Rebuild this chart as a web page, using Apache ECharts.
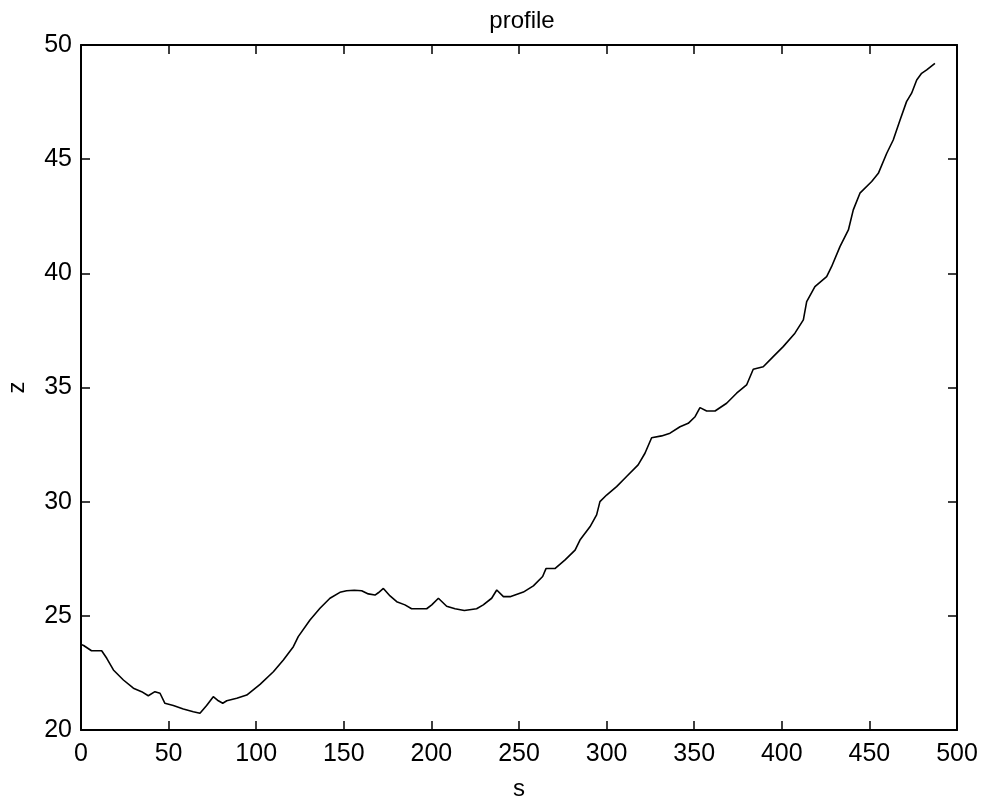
<!DOCTYPE html>
<html>
<head>
<meta charset="utf-8">
<script src="https://cdn.jsdelivr.net/npm/echarts@6/dist/echarts.min.js"></script>
<style>
html,body{margin:0;padding:0;background:#fff;}
#chart{width:981px;height:799px;}
</style>
</head>
<body>
<div id="chart"></div>
<script>
const sValues = [0, 1.5, 6, 11.8, 14.7, 18.5, 24.2, 29.9, 34.6, 38.4, 42.2, 45.1, 47.9, 52.7, 58.4, 64.1, 67.9, 71.7, 75.5, 78.4, 80.9, 83.2, 88.9, 94.6, 102.2, 109.8, 115.5, 121.2, 124, 130.7, 136.4, 142.1, 147.8, 151.6, 156, 160.2, 164, 167.8, 169.7, 172.6, 176.4, 180.2, 184.9, 188.7, 197.3, 200.2, 204, 208.7, 213.5, 218.8, 225.8, 229.6, 234.4, 237.3, 241.1, 244.9, 252.5, 258.2, 263.5, 265.4, 270.5, 276.3, 282, 284.8, 290.5, 294.3, 296.2, 300, 305.7, 311.4, 318, 321.9, 325.7, 331.4, 336.2, 341.9, 346.6, 350.5, 353.3, 357.1, 361.9, 368.5, 374.2, 379.9, 383.7, 389.4, 395.1, 400.8, 407.5, 412.3, 414.2, 418.9, 425.6, 428.4, 433.2, 438, 440.8, 444.6, 451.3, 455.1, 459.9, 463.6, 467.5, 471.2, 474.1, 477, 479.8, 482.7, 487.4];
const zValues = [23.75, 23.70, 23.47, 23.47, 23.14, 22.63, 22.19, 21.83, 21.68, 21.50, 21.68, 21.61, 21.17, 21.07, 20.92, 20.80, 20.73, 21.07, 21.46, 21.28, 21.17, 21.28, 21.39, 21.53, 22.00, 22.55, 23.07, 23.65, 24.09, 24.82, 25.33, 25.77, 26.03, 26.10, 26.12, 26.10, 25.96, 25.91, 26.01, 26.20, 25.87, 25.62, 25.48, 25.31, 25.31, 25.48, 25.77, 25.42, 25.31, 25.23, 25.31, 25.48, 25.77, 26.13, 25.84, 25.84, 26.04, 26.31, 26.72, 27.07, 27.07, 27.45, 27.88, 28.32, 28.90, 29.42, 30.00, 30.29, 30.66, 31.10, 31.61, 32.12, 32.80, 32.88, 33.00, 33.28, 33.43, 33.72, 34.12, 33.97, 33.97, 34.31, 34.75, 35.11, 35.80, 35.91, 36.35, 36.79, 37.38, 37.96, 38.76, 39.42, 39.86, 40.29, 41.17, 41.90, 42.78, 43.51, 44.02, 44.38, 45.26, 45.84, 46.72, 47.52, 47.89, 48.47, 48.76, 48.91, 49.20];
const titleText = 'profile';
const xName = 's';
const yName = 'z';

const FONT = '"Liberation Sans", Arial, sans-serif';
const chart = echarts.init(document.getElementById('chart'), null, {renderer: 'canvas'});
const lineStyle = {color: '#000', width: 2};
const tickStyle = {show: true, inside: true, length: 9, lineStyle: {color: '#000', width: 1.5}};
const option = {
  backgroundColor: '#fff',
  animation: false,
  title: {
    text: titleText, left: 517, top: 4, textAlign: 'center',
    textStyle: {fontFamily: FONT, fontSize: 24, fontWeight: 'normal', color: '#000'}
  },
  grid: {left: 81, top: 45, right: 24, bottom: 69, containLabel: false, outerBoundsMode: 'none'},
  xAxis: [{
    type: 'value', min: 0, max: 500, interval: 50, position: 'bottom',
    name: xName, nameLocation: 'middle', nameGap: 47,
    nameTextStyle: {fontFamily: FONT, fontSize: 24, color: '#000'},
    axisLine: {show: true, onZero: false, lineStyle: lineStyle},
    axisTick: tickStyle,
    axisLabel: {fontFamily: FONT, fontSize: 25, color: '#000', margin: 12},
    splitLine: {show: false}
  }, {
    type: 'value', min: 0, max: 500, interval: 50, position: 'top',
    axisLine: {show: true, onZero: false, lineStyle: lineStyle},
    axisTick: tickStyle, axisLabel: {show: false}, splitLine: {show: false}
  }],
  yAxis: [{
    type: 'value', min: 20, max: 50, interval: 5, position: 'left',
    name: yName, nameLocation: 'middle', nameGap: 52, nameRotate: 90,
    nameTextStyle: {fontFamily: FONT, fontSize: 24, color: '#000'},
    axisLine: {show: true, onZero: false, lineStyle: lineStyle},
    axisTick: tickStyle,
    axisLabel: {fontFamily: FONT, fontSize: 25, color: '#000', margin: 9},
    splitLine: {show: false}
  }, {
    type: 'value', min: 20, max: 50, interval: 5, position: 'right',
    axisLine: {show: true, onZero: false, lineStyle: lineStyle},
    axisTick: tickStyle, axisLabel: {show: false}, splitLine: {show: false}
  }],
  series: [{
    type: 'line',
    xAxisIndex: 0, yAxisIndex: 0,
    data: sValues.map((s, i) => [s, zValues[i]]),
    showSymbol: false, symbol: 'none',
    lineStyle: {color: '#000', width: 1.6},
    smooth: false
  }]
};
chart.setOption(option);
</script>
</body>
</html>
